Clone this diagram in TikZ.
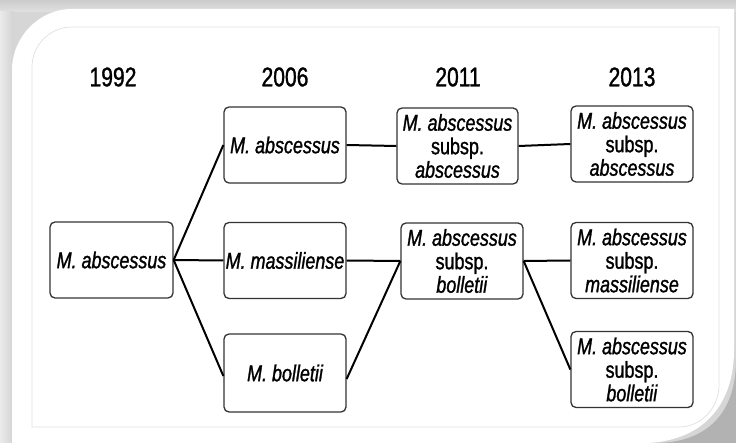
\documentclass[tikz,border=0pt]{standalone}
\usepackage{fontspec}
\setmainfont[FakeStretch=0.78,FakeBold=1.2]{Liberation Sans}
\begin{document}
\begin{tikzpicture}[x=1pt,y=-1pt,
  taxbox/.style={draw=black!80, line width=1.3pt, rounded corners=5pt, fill=white,
    minimum width=122pt, minimum height=76pt, inner sep=0pt, align=center,
    font=\fontsize{23}{23.5}\selectfont},
  yearlabel/.style={font=\fontsize{27}{30}\selectfont, inner sep=0pt},
  link/.style={line width=2pt, black}]
\useasboundingbox (0,0) rectangle (736,443);
% background and frame
\fill[black!16] (0,0) rectangle (736,443);
\shade[top color=black!20, bottom color=black!12] (0,0) rectangle (736,12);
\shade[left color=black!8, right color=black!17] (0,12) rectangle (13,443);
\fill[black!30] (736,360) .. controls (736,415) and (705,443) .. (655,443) -- (736,443) -- cycle;
\fill[white] (12,443) -- (12,70) .. controls (12,37) and (39,9) .. (72,9) -- (734,9)
  -- (734,350) .. controls (734,405) and (703,440) .. (648,443) -- cycle;
\draw[black!12, line width=0.7pt] (32,427) -- (32,67) .. controls (32,45) and (50,27) .. (72,27)
  -- (719,27) -- (719,385) .. controls (719,408) and (701,427) .. (679,427) -- cycle;
% year labels
\node[yearlabel] (y1992) at (113,77) {1992};
\node[yearlabel] (y2006) at (285,77) {2006};
\node[yearlabel] (y2011) at (458,77) {2011};
\node[yearlabel] (y2013) at (632,77) {2013};
% boxes
\node[taxbox, minimum width=123pt] (a) at (111.5,260) {\itshape M. abscessus};
\node[taxbox] (babs) at (285,145) {\itshape M. abscessus};
\node[taxbox] (bmas) at (285,260.5) {\itshape M. massiliense};
\node[taxbox, minimum height=78pt] (bbol) at (285,373) {\itshape M. bolletii};
\node[taxbox, minimum width=121pt] (cabs) at (457.5,146) {\textit{M. abscessus}\\subsp.\\\textit{abscessus}};
\node[taxbox] (cbol) at (462,261) {\textit{M. abscessus}\\subsp.\\\textit{bolletii}};
\node[taxbox] (dabs) at (632,144) {\textit{M. abscessus}\\subsp.\\\textit{abscessus}};
\node[taxbox] (dmas) at (632,260.5) {\textit{M. abscessus}\\subsp.\\\textit{massiliense}};
\node[taxbox] (dbol) at (632,369.5) {\textit{M. abscessus}\\subsp.\\\textit{bolletii}};
% connectors
\draw[link] (a.east) -- (babs.west);
\draw[link] (a.east) -- (bmas.west);
\draw[link] (a.east) -- ([yshift=-3pt]bbol.west);
\draw[link] (babs.east) -- (cabs.west);
\draw[link] (bmas.east) -- (cbol.west);
\draw[link] ([yshift=-6pt]bbol.east) -- (cbol.west);
\draw[link] (cabs.east) -- (dabs.west);
\draw[link] (cbol.east) -- (dmas.west);
\draw[link] (cbol.east) -- (dbol.west);
\end{tikzpicture}
\end{document}
